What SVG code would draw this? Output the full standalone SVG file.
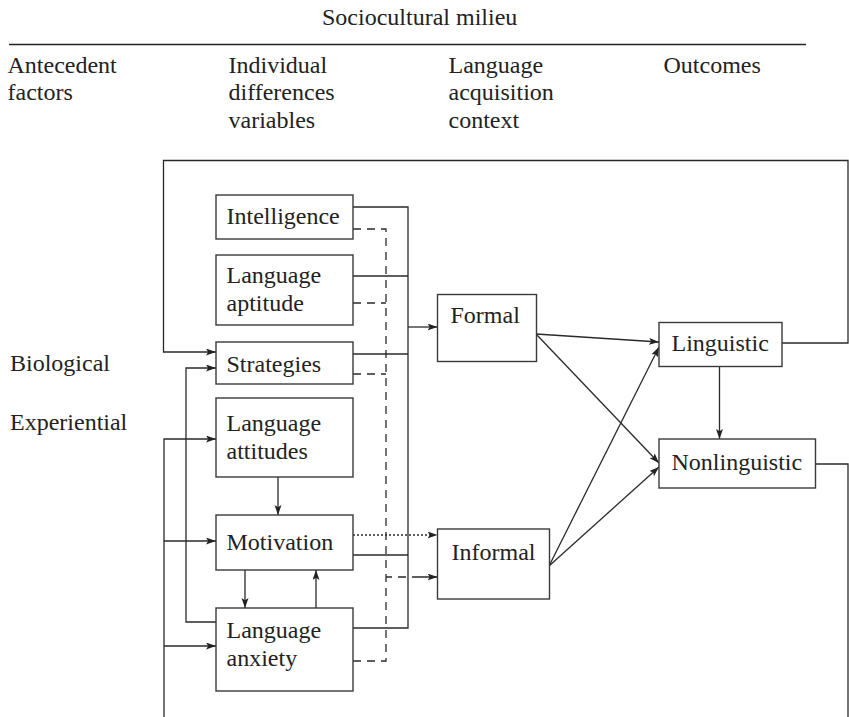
<svg xmlns="http://www.w3.org/2000/svg" width="849" height="717" viewBox="0 0 849 717">
<style>
text{font-family:"Liberation Serif","Times New Roman",serif;font-size:24px;fill:#222}
.box{fill:#fff;stroke:#3a3a3a;stroke-width:1.4}
.ln{fill:none;stroke:#2a2a2a;stroke-width:1.3}
.dash{stroke-dasharray:8,6}
.dot{stroke-dasharray:2,2}
</style>
<defs>
<marker id="ah" markerUnits="userSpaceOnUse" markerWidth="11" markerHeight="8" refX="10" refY="3.5" orient="auto">
<path d="M0,0 L10,3.5 L0,7 L2.2,3.5 Z" fill="#222"/>
</marker>
</defs>
<rect width="849" height="717" fill="#fff"/>
<g id="header">
<text x="322" y="25">Sociocultural milieu</text>
<line x1="9" y1="44.5" x2="806" y2="44.5" stroke="#222" stroke-width="1.5"/>
<text x="7.5" y="72.7">Antecedent</text>
<text x="7.5" y="100">factors</text>
<text x="228.5" y="72.7">Individual</text>
<text x="228.5" y="100">differences</text>
<text x="228.5" y="127.5">variables</text>
<text x="448.5" y="72.7">Language</text>
<text x="448.5" y="100">acquisition</text>
<text x="448.5" y="127.5">context</text>
<text x="663.5" y="72.7">Outcomes</text>
</g>
<g id="antecedents">
<text x="10" y="371">Biological</text>
<text x="10" y="429.5">Experiential</text>
</g>
<g id="connectors">
<!-- feedback loops -->
<path class="ln" d="M782,343 H848 V160.5 H163.5 V352 H216" marker-end="url(#ah)"/>
<path class="ln" d="M815.5,464 H848 V717"/>
<path class="ln" d="M164,717 V439 H216" marker-end="url(#ah)"/>
<path class="ln" d="M164,541 H216" marker-end="url(#ah)"/>
<path class="ln" d="M164,646 H216" marker-end="url(#ah)"/>
<path class="ln" d="M216,622 H186 V368 H216" marker-end="url(#ah)"/>
<!-- within individual differences -->
<path class="ln" d="M278,477 V515" marker-end="url(#ah)"/>
<path class="ln" d="M245,570 V608" marker-end="url(#ah)"/>
<path class="ln" d="M316,608 V570" marker-end="url(#ah)"/>
<!-- solid to formal -->
<path class="ln" d="M353,207 H408 V628 H353"/>
<path class="ln" d="M353,276 H408"/>
<path class="ln" d="M353,354 H408"/>
<path class="ln" d="M353,555 H408"/>
<path class="ln" d="M408,327 H437.5" marker-end="url(#ah)"/>
<!-- dashed to informal -->
<path class="ln dash" d="M353,229 H386 V661 H353"/>
<path class="ln dash" d="M353,303 H386"/>
<path class="ln dash" d="M353,374 H386"/>
<path class="ln" d="M386,577 H392 M398,577 H406 M412,577 H437.5" marker-end="url(#ah)"/>
<!-- dotted motivation to informal -->
<path class="ln dot" d="M353,535 H437.5" marker-end="url(#ah)"/>
<!-- context to outcomes -->
<path class="ln" d="M536,334 L659,342" marker-end="url(#ah)"/>
<path class="ln" d="M536,334 L659,463" marker-end="url(#ah)"/>
<path class="ln" d="M549,566 L659,347" marker-end="url(#ah)"/>
<path class="ln" d="M549,566 L659,467" marker-end="url(#ah)"/>
<path class="ln" d="M719.5,367 V439" marker-end="url(#ah)"/>
</g>
<g id="intelligence">
<rect class="box" x="216" y="195" width="137" height="44"/>
<text x="226.5" y="224">Intelligence</text>
</g>
<g id="aptitude">
<rect class="box" x="216" y="255" width="137" height="70"/>
<text x="226.5" y="282.5">Language</text>
<text x="226.5" y="311">aptitude</text>
</g>
<g id="strategies">
<rect class="box" x="216" y="342" width="137" height="42"/>
<text x="226.5" y="371.5">Strategies</text>
</g>
<g id="attitudes">
<rect class="box" x="216" y="398" width="137" height="79"/>
<text x="226.5" y="430.5">Language</text>
<text x="226.5" y="459">attitudes</text>
</g>
<g id="motivation">
<rect class="box" x="216" y="515" width="137" height="55"/>
<text x="226.5" y="549.5">Motivation</text>
</g>
<g id="anxiety">
<rect class="box" x="216" y="608" width="137" height="83"/>
<text x="226.5" y="637.5">Language</text>
<text x="226.5" y="666">anxiety</text>
</g>
<g id="formal">
<rect class="box" x="437.5" y="294.5" width="99" height="67"/>
<text x="450.5" y="322.5">Formal</text>
</g>
<g id="informal">
<rect class="box" x="437.5" y="529" width="112" height="70"/>
<text x="451.5" y="559.5">Informal</text>
</g>
<g id="linguistic">
<rect class="box" x="659" y="322.5" width="123" height="44"/>
<text x="671.5" y="351">Linguistic</text>
</g>
<g id="nonlinguistic">
<rect class="box" x="659" y="439" width="156.5" height="49"/>
<text x="671.5" y="469.5">Nonlinguistic</text>
</g>
</svg>
